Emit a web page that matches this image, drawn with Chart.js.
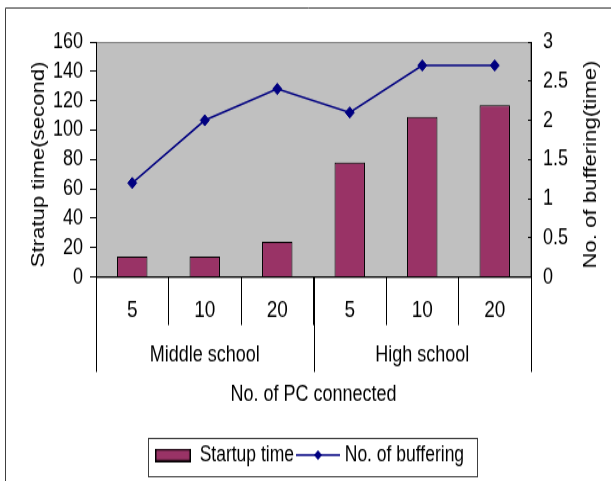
<!DOCTYPE html>
<html>
<head>
<meta charset="utf-8">
<script src="https://cdn.jsdelivr.net/npm/chart.js@4.4.1/dist/chart.umd.min.js"></script>
<style>
  html, body { margin: 0; padding: 0; background: #fff; }
  #chart { display: block; }
</style>
</head>
<body>
<!-- drawn 390px tall, shown stretched to 481px -->
<canvas id="chart" width="611" height="390" style="width:611px;height:481px"></canvas>
<script>
const pcConnected = ['5', '10', '20', '5', '10', '20'];
const schoolGroups = ['Middle school', 'High school'];
const groupSizes = [3, 3];
const startupTime = [14, 14, 24, 78, 109, 117];
const bufferingCount = [1.2, 2.0, 2.4, 2.1, 2.7, 2.7];

const FONT = 'Liberation Sans, Arial, sans-serif';
const BAR_COLOR = '#993366';
const LINE_COLOR = '#000080';
const PLOT_FILL = '#c0c0c0';

// little legend symbols: a bordered box and a line with a diamond
function barSymbol() {
    const c = document.createElement('canvas');
    c.width = 36; c.height = 11;
    const g = c.getContext('2d');
    g.fillStyle = BAR_COLOR;
    g.fillRect(0, 0, 36, 11);
    g.strokeStyle = '#000';
    g.lineWidth = 1.5;
    g.strokeRect(0.75, 0.75, 34.5, 9.5);
    return c;
}

function lineSymbol() {
    const c = document.createElement('canvas');
    c.width = 44; c.height = 10;
    const g = c.getContext('2d');
    g.strokeStyle = LINE_COLOR;
    g.lineWidth = 1.5;
    g.beginPath();
    g.moveTo(0, 5); g.lineTo(44, 5);
    g.stroke();
    g.fillStyle = LINE_COLOR;
    g.beginPath();
    g.moveTo(22, 1); g.lineTo(26, 5); g.lineTo(22, 9); g.lineTo(18, 5);
    g.closePath();
    g.fill();
    return c;
}

const legendSymbols = [barSymbol(), lineSymbol()];

function sideTitle(ctx, text, x, y) {
    ctx.save();
    ctx.translate(x, y);
    ctx.rotate(-Math.PI / 2);
    ctx.fillStyle = '#000';
    ctx.font = '18px ' + FONT;
    ctx.textAlign = 'center';
    ctx.textBaseline = 'middle';
    ctx.fillText(text, 0, 0);
    ctx.restore();
}

const decor = {
    id: 'decor',
    afterLayout(chart) {
        // legend row sits a little right of centre
        chart.legend.left += 4;
        chart.legend.right += 4;
    },
    beforeDraw(chart) {
        const { ctx, chartArea: a } = chart;
        ctx.save();
        // outer frame
        ctx.strokeStyle = '#404040';
        ctx.lineWidth = 1;
        ctx.beginPath();
        ctx.moveTo(5.5, chart.height);
        ctx.lineTo(5.5, 6.5);
        ctx.lineTo(chart.width, 6.5);
        ctx.stroke();
        // plot area
        ctx.fillStyle = PLOT_FILL;
        ctx.fillRect(a.left, a.top, a.right - a.left, a.bottom - a.top);
        ctx.strokeStyle = '#808080';
        ctx.strokeRect(a.left + 0.5, a.top + 0.5, a.right - a.left - 1, a.bottom - a.top);
        ctx.restore();
    },
    afterDraw(chart) {
        const { ctx, chartArea: a } = chart;
        const x = chart.scales.x;
        ctx.save();
        // both value axis titles read bottom to top
        const midY = (a.top + a.bottom) / 2 + 4;
        sideTitle(ctx, 'Stratup time(second)', 39, midY);
        sideTitle(ctx, 'No. of buffering(time)', 591, midY);

        // group dividers under the category axis
        ctx.strokeStyle = '#000';
        ctx.lineWidth = 1;
        let start = 0;
        const edges = [a.left];
        groupSizes.forEach(n => {
            const end = start + n - 1;
            const right = end + 1 < pcConnected.length
                ? (x.getPixelForValue(end) + x.getPixelForValue(end + 1)) / 2
                : a.right;
            edges.push(right);
            start += n;
        });
        ctx.beginPath();
        edges.forEach(px => {
            const xx = Math.round(px) + 0.5;
            ctx.moveTo(xx, a.bottom);
            ctx.lineTo(xx, a.bottom + 77);
        });
        ctx.stroke();
        // group labels
        ctx.fillStyle = '#000';
        ctx.font = '18px ' + FONT;
        ctx.textAlign = 'center';
        ctx.textBaseline = 'middle';
        schoolGroups.forEach((name, i) => {
            ctx.fillText(name, (edges[i] + edges[i + 1]) / 2, a.bottom + 63);
        });
        // legend frame
        const hb = chart.legend.legendHitBoxes;
        if (hb && hb.length) {
            const first = hb[0];
            const last = hb[hb.length - 1];
            const left = Math.round(first.left - 7) + 0.5;
            const right = Math.round(last.left + last.width + 13) + 0.5;
            const top = Math.round(first.top - 5) + 0.5;
            const bottom = Math.round(first.top + first.height + 8) + 0.5;
            ctx.strokeStyle = '#404040';
            ctx.strokeRect(left, top, right - left, bottom - top);
        }
        ctx.restore();
    }
};

new Chart(document.getElementById('chart'), {
    data: {
        labels: pcConnected,
        datasets: [{
            type: 'bar',
            label: 'Startup time',
            data: startupTime,
            yAxisID: 'y',
            backgroundColor: BAR_COLOR,
            borderColor: '#000',
            borderWidth: 1,
            categoryPercentage: 1,
            barPercentage: 0.42
        }, {
            type: 'line',
            label: 'No. of buffering',
            data: bufferingCount,
            yAxisID: 'y1',
            borderColor: LINE_COLOR,
            borderWidth: 1.5,
            tension: 0,
            pointStyle: 'rectRot',
            pointRadius: 4.5,
            pointBackgroundColor: LINE_COLOR,
            pointBorderColor: LINE_COLOR,
            pointBorderWidth: 1
        }]
    },
    options: {
        responsive: false,
        animation: false,
        devicePixelRatio: 1,
        layout: { padding: { top: 34, left: 0, right: 0, bottom: 2.25 } },
        plugins: {
            tooltip: { enabled: false },
            legend: {
                position: 'bottom',
                labels: {
                    usePointStyle: true,
                    pointStyleWidth: 36,
                    padding: 6,
                    color: '#000',
                    font: { family: FONT, size: 17.5 },
                    generateLabels(chart) {
                        return chart.data.datasets.map((ds, i) => ({
                            text: ds.label,
                            pointStyle: legendSymbols[i],
                            fillStyle: BAR_COLOR,
                            strokeStyle: '#000',
                            lineWidth: 0,
                            fontColor: '#000',
                            hidden: false,
                            datasetIndex: i
                        }));
                    }
                }
            }
        },
        scales: {
            x: {
                offset: true,
                grid: { offset: true, drawOnChartArea: false, tickLength: 39, color: '#000' },
                border: { color: '#000' },
                ticks: { color: '#000', font: { family: FONT, size: 19 }, padding: -23, maxRotation: 0, autoSkip: false },
                title: {
                    display: true,
                    text: 'No. of PC connected',
                    color: '#000',
                    font: { family: FONT, size: 18 },
                    padding: { top: 0, bottom: 23 }
                },
                afterFit(scale) { scale.height = 129.65; }
            },
            y: {
                position: 'left',
                min: 0,
                max: 160,
                ticks: { stepSize: 20, autoSkip: false, color: '#000', font: { family: FONT, size: 18 }, padding: 7 },
                grid: { drawOnChartArea: false, tickLength: 6, color: '#000' },
                border: { color: '#000' },
                afterFit(scale) { scale.width = 96; }
            },
            y1: {
                position: 'right',
                min: 0,
                max: 3,
                ticks: {
                    stepSize: 0.5,
                    autoSkip: false,
                    color: '#000',
                    font: { family: FONT, size: 18 },
                    padding: 15,
                    callback: v => String(v)
                },
                grid: { drawOnChartArea: false, tickLength: -3, color: '#000' },
                border: { color: '#000' },
                afterFit(scale) { scale.width = 80; }
            }
        }
    },
    plugins: [decor]
});
</script>
</body>
</html>
